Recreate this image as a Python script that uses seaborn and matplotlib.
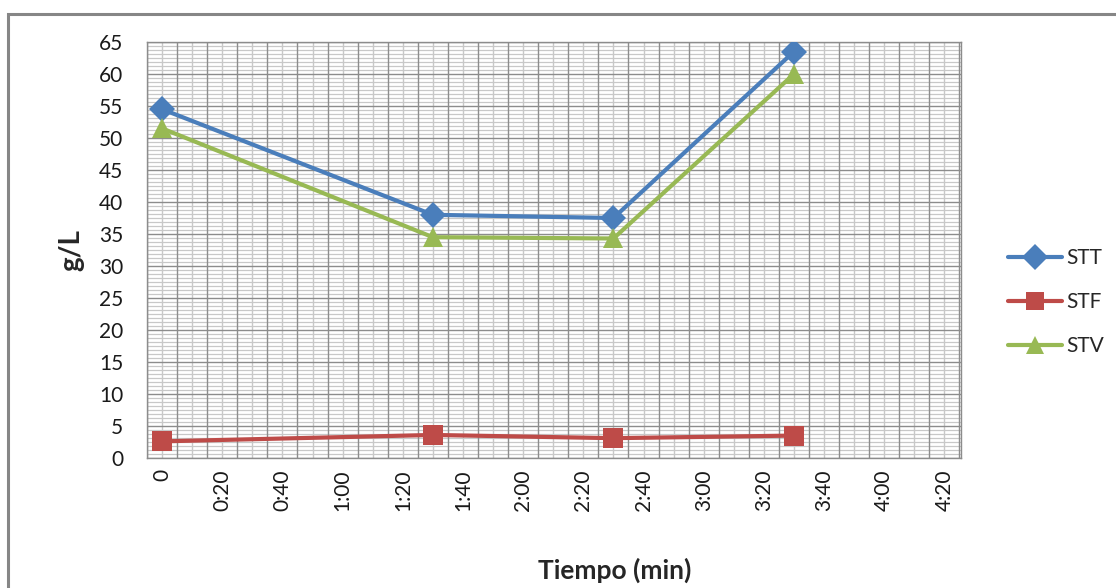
import numpy as np
import pandas as pd
import matplotlib
matplotlib.use("Agg")
import matplotlib.pyplot as plt
import seaborn as sns
from matplotlib.patches import Rectangle
from matplotlib.ticker import FixedLocator

# Data
tiempo_min = [0, 90, 150, 210]
stt = [54.5, 38.0, 37.5, 63.5]
stf = [2.6, 3.6, 3.1, 3.5]
stv = [51.5, 34.5, 34.3, 60.0]
series_names = ["STT", "STF", "STV"]
x_tick_values = [0, 20, 40, 60, 80, 100, 120, 140, 160, 180, 200, 220, 240, 260]
x_tick_labels = ["0", "0:20", "0:40", "1:00", "1:20", "1:40", "2:00", "2:20",
                 "2:40", "3:00", "3:20", "3:40", "4:00", "4:20"]
y_ticks = list(range(0, 70, 5))

df = pd.DataFrame({
    "t": tiempo_min * 3,
    "v": stt + stf + stv,
    "serie": [s for s in series_names for _ in tiempo_min],
})

sns.set_theme(style="white")
plt.rcParams["font.family"] = ["Lato", "DejaVu Sans"]

fig = plt.figure(figsize=(11.16, 5.88), dpi=100)
ax = fig.add_axes([147 / 1116, 1 - 458 / 588, (961 - 147) / 1116, (458 - 42) / 588])

palette = {"STT": "#4A7EBB", "STF": "#BE4B48", "STV": "#98B954"}
markers = {"STT": "D", "STF": "s", "STV": "^"}
sns.lineplot(data=df, x="t", y="v", hue="serie", style="serie",
             palette=palette, markers=markers, dashes=False,
             linewidth=3, markersize=13, markeredgewidth=0, ax=ax, zorder=5)
for line, name in zip(ax.lines[:3], series_names):
    if name == "STF":
        line.set_markersize(15)
    elif name == "STV":
        line.set_markersize(15)
    else:
        line.set_markersize(13)

ax.set_xlim(-5, 265.5)
ax.set_ylim(0, 65)

ax.xaxis.set_major_locator(FixedLocator(x_tick_values))
ax.set_xticklabels(x_tick_labels, rotation=90, fontsize=15, color="#1a1a1a")
ax.set_yticks(y_ticks)
ax.set_yticklabels([str(v) for v in y_ticks], fontsize=15, color="#1a1a1a")
ax.tick_params(axis="x", length=0, pad=8)
ax.tick_params(axis="y", length=0, pad=17)

for xv in np.arange(-5, 266, 10):
    ax.axvline(xv, color="#8c8c8c", lw=1.0, zorder=1)
for xv in np.arange(0, 266, 10):
    ax.axvline(xv, color="#c8c8c8", lw=1.0, zorder=0.9)
for yv in np.arange(0, 65.01, 5):
    ax.axhline(yv, color="#8c8c8c", lw=1.0, zorder=1)
for yv in np.arange(0, 65.01, 0.625):
    if abs(yv / 5 - round(yv / 5)) > 1e-6:
        ax.axhline(yv, color="#c8c8c8", lw=0.9, zorder=0.9)

for sp in ax.spines.values():
    sp.set_color("#8c8c8c")
    sp.set_linewidth(1.0)

ax.set_xlabel("Tiempo (min)", fontsize=19, fontweight="bold")
ax.xaxis.set_label_coords((615 - 147) / (961 - 147), -(558 - 458) / (458 - 42))
ax.set_ylabel("g/L", fontsize=20, fontweight="bold")
ax.yaxis.set_label_coords(-(147 - 84) / (961 - 147), (458 - 250) / (458 - 42))

leg = ax.legend(loc="center left", bbox_to_anchor=(1.035, 0.375), frameon=False,
                fontsize=15, handlelength=2.6, labelspacing=1.15, handletextpad=0.2)
for h in leg.legend_handles:
    h.set_linewidth(3)

fig.patches.append(Rectangle((8 / 1116, -0.1), 1.2, 1 - 14 / 588 + 0.1,
                             transform=fig.transFigure, fill=False,
                             edgecolor="#868686", linewidth=2.2))

fig.savefig("out.png", dpi=100)
